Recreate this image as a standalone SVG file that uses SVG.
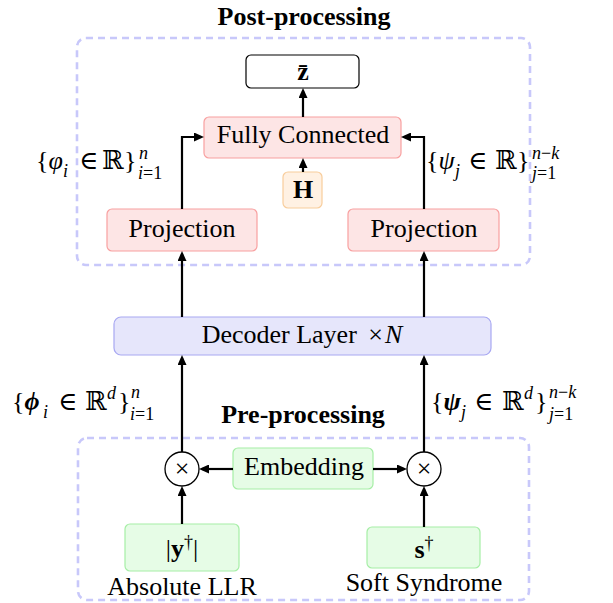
<svg xmlns="http://www.w3.org/2000/svg" width="613" height="603" viewBox="0 0 613 603">
<defs>
<marker id="ah" viewBox="0 0 10 9" refX="7" refY="4.5" markerWidth="11" markerHeight="9" markerUnits="userSpaceOnUse" orient="auto">
<path d="M0,0 L10,4.5 L0,9 z" fill="#000"/>
</marker>
<style>
text{font-family:"Liberation Serif","DejaVu Serif",serif;font-size:26px;fill:#000}
.c{text-anchor:middle}
.b{font-weight:bold}
.i{font-style:italic}
.s{font-size:18px}
.dash{fill:none;stroke:#c8c8fa;stroke-width:2.6;stroke-dasharray:7 5}
.red{fill:#fde5e5;stroke:#f8a0a0;stroke-width:1.2}
.blue{fill:#e6e6fb;stroke:#a8a8f2;stroke-width:1.2}
.green{fill:#e6fce6;stroke:#a6eea6;stroke-width:1.2}
.orange{fill:#fff1e3;stroke:#f8cd9c;stroke-width:1.2}
.plain{fill:#fff;stroke:#000;stroke-width:1.2}
.conn path{fill:none;stroke:#000;stroke-width:2.2;marker-end:url(#ah)}
</style>
</defs>
<g id="post-box">
<rect class="dash" x="77" y="38" width="453" height="227" rx="9"/>
<text class="c b" x="304" y="25">Post-processing</text>
</g>
<g id="pre-box">
<rect class="dash" x="78" y="438" width="451" height="162" rx="9"/>
<text class="c b" x="303" y="423">Pre-processing</text>
</g>
<g id="zbar">
<rect class="plain" x="246" y="55" width="113" height="33" rx="5"/>
<text class="c b" x="303" y="80">z̄</text>
</g>
<g id="fc">
<rect class="red" x="204" y="117" width="197" height="41" rx="5"/>
<text class="c" x="303" y="143">Fully Connected</text>
</g>
<g id="H">
<rect class="orange" x="283" y="172" width="39" height="36" rx="5"/>
<text class="c b" x="303" y="198">H</text>
</g>
<g id="proj-left">
<rect class="red" x="107" y="209" width="150" height="42" rx="5"/>
<text class="c" x="182" y="237">Projection</text>
</g>
<g id="proj-right">
<rect class="red" x="348" y="209" width="151" height="42" rx="5"/>
<text class="c" x="424" y="237">Projection</text>
</g>
<g id="decoder">
<rect class="blue" x="114" y="317" width="377" height="38" rx="7"/>
<text class="c" x="302" y="343">Decoder Layer <tspan dx="5">×</tspan><tspan class="i" dx="2">N</tspan></text>
</g>
<g id="mul-left">
<circle cx="182" cy="469" r="17" fill="#fff" stroke="#000" stroke-width="1.3"/>
<text class="c" x="182" y="477">×</text>
</g>
<g id="mul-right">
<circle cx="424" cy="469" r="17" fill="#fff" stroke="#000" stroke-width="1.3"/>
<text class="c" x="424" y="477">×</text>
</g>
<g id="embedding">
<rect class="green" x="233" y="448" width="140" height="41" rx="5"/>
<text class="c" x="304" y="475">Embedding</text>
</g>
<g id="y-abs">
<rect class="green" x="125" y="524" width="114" height="47" rx="5"/>
<text class="c" x="182" y="557">|<tspan class="b">y</tspan><tspan class="s" dy="-9">†</tspan><tspan dy="9">|</tspan></text>
<text class="c" x="182" y="595">Absolute LLR</text>
</g>
<g id="s-soft">
<rect class="green" x="367" y="527" width="113" height="41" rx="5"/>
<text class="c" x="424" y="558"><tspan class="b">s</tspan><tspan class="s" dy="-9">†</tspan></text>
<text class="c" x="424" y="591">Soft Syndrome</text>
</g>
<g id="label-phi-post">
<text x="36" y="169">{<tspan class="i">φ</tspan></text>
<text class="i s" x="63" y="177">i</text>
<text x="79" y="169">∈<tspan x="102">ℝ</tspan></text>
<text x="124" y="169">}</text>
<text class="i s" x="139" y="159">n</text>
<text class="s" x="138" y="179"><tspan class="i">i</tspan>=1</text>
</g>
<g id="label-psi-post">
<text x="426" y="169">{<tspan class="i">ψ</tspan></text>
<text class="i s" x="455" y="177">j</text>
<text x="468" y="169">∈<tspan x="495">ℝ</tspan></text>
<text x="517" y="169">}</text>
<text class="s" x="532" y="159"><tspan class="i">n</tspan>−<tspan class="i">k</tspan></text>
<text class="s" x="532" y="179"><tspan class="i">j</tspan>=1</text>
</g>
<g id="label-phi-pre">
<text x="12" y="410">{<tspan class="i b">ϕ</tspan></text>
<text class="i s" x="43" y="418">i</text>
<text x="58" y="410">∈<tspan x="85">ℝ</tspan></text>
<text class="i s" x="107" y="399">d</text>
<text x="118" y="410">}</text>
<text class="i s" x="131" y="398">n</text>
<text class="s" x="130" y="420"><tspan class="i">i</tspan>=1</text>
</g>
<g id="label-psi-pre">
<text x="431" y="410">{<tspan class="i b">ψ</tspan></text>
<text class="i s" x="461" y="418">j</text>
<text x="474" y="410">∈<tspan x="502">ℝ</tspan></text>
<text class="i s" x="524" y="399">d</text>
<text x="535" y="410">}</text>
<text class="s" x="549" y="398"><tspan class="i">n</tspan>−<tspan class="i">k</tspan></text>
<text class="s" x="549" y="420"><tspan class="i">j</tspan>=1</text>
</g>
<g id="connectors" class="conn">
<path d="M303,117 V91"/>
<path d="M303,172 V161"/>
<path d="M182,209 V137 H201"/>
<path d="M424,209 V137 H404"/>
<path d="M182,317 V254"/>
<path d="M424,317 V254"/>
<path d="M182,452 V358"/>
<path d="M424,452 V358"/>
<path d="M233,469 H202"/>
<path d="M373,469 H404"/>
<path d="M182,524 V489"/>
<path d="M424,527 V489"/>
</g>
</svg>
